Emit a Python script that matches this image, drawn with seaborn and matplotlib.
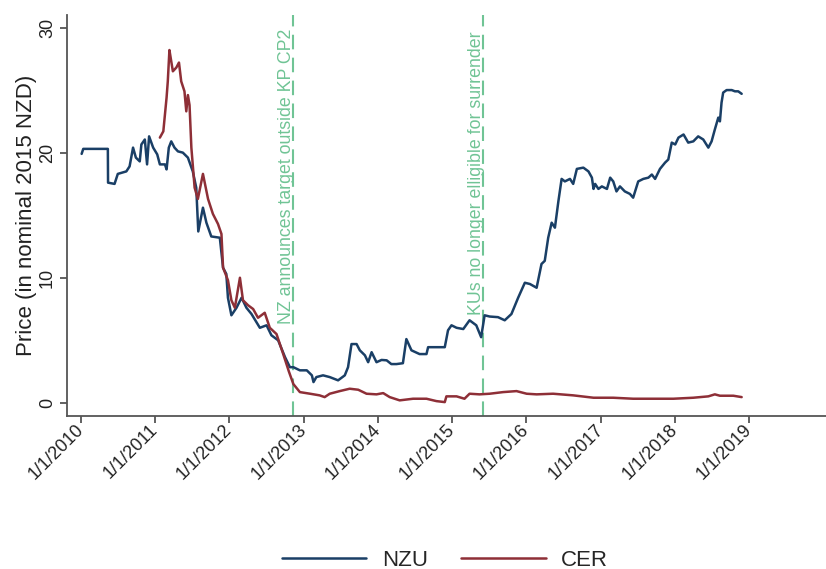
import matplotlib
matplotlib.use("Agg")
import matplotlib.pyplot as plt
import matplotlib.dates as mdates
import matplotlib.transforms as mtransforms
from matplotlib.ticker import FuncFormatter
import numpy as np
import pandas as pd
import seaborn as sns

# --- NZU spot price (nominal 2015 NZD) ---
nzu_dates = [
    "2010-01-04", "2010-01-12", "2010-05-13", "2010-05-14", "2010-06-15", "2010-07-01",
    "2010-08-12", "2010-08-28", "2010-09-14", "2010-09-28", "2010-10-17", "2010-10-25",
    "2010-11-11", "2010-11-22", "2010-12-02", "2010-12-22", "2011-01-11", "2011-01-24",
    "2011-02-18", "2011-02-26", "2011-03-09", "2011-03-21", "2011-04-06", "2011-04-23",
    "2011-05-17", "2011-06-11", "2011-07-05", "2011-07-22", "2011-08-01", "2011-08-24",
    "2011-09-10", "2011-10-04", "2011-11-15", "2011-12-01", "2011-12-17", "2011-12-25",
    "2012-01-11", "2012-02-05", "2012-03-01", "2012-03-25", "2012-04-19", "2012-05-30",
    "2012-07-02", "2012-07-26", "2012-08-28", "2012-10-01", "2012-10-25", "2012-11-11",
    "2012-12-13", "2013-01-16", "2013-02-10", "2013-02-18", "2013-03-04", "2013-04-06",
    "2013-05-09", "2013-06-19", "2013-07-22", "2013-08-07", "2013-08-24", "2013-09-18",
    "2013-10-04", "2013-10-29", "2013-11-14", "2013-12-01", "2013-12-25", "2014-01-19",
    "2014-02-13", "2014-03-08", "2014-04-02", "2014-05-04", "2014-05-21", "2014-06-15",
    "2014-07-25", "2014-08-28", "2014-09-05", "2014-10-16", "2014-11-26", "2014-12-12",
    "2014-12-29", "2015-01-23", "2015-02-25", "2015-03-28", "2015-04-30", "2015-05-24",
    "2015-06-10", "2015-07-05", "2015-08-15", "2015-09-17", "2015-10-20", "2015-11-22",
    "2015-12-25", "2016-01-19", "2016-02-21", "2016-03-16", "2016-04-01", "2016-04-18",
    "2016-05-05", "2016-05-21", "2016-06-07", "2016-06-23", "2016-07-09", "2016-08-03",
    "2016-08-19", "2016-09-06", "2016-10-08", "2016-11-02", "2016-11-19", "2016-11-27",
    "2016-12-05", "2016-12-21", "2017-01-07", "2017-02-01", "2017-02-17", "2017-03-04",
    "2017-03-20", "2017-04-06", "2017-04-30", "2017-05-25", "2017-06-10", "2017-07-05",
    "2017-07-30", "2017-08-24", "2017-09-10", "2017-09-26", "2017-10-20", "2017-11-14",
    "2017-11-30", "2017-12-17", "2018-01-03", "2018-01-19", "2018-02-13", "2018-03-08",
    "2018-04-02", "2018-04-26", "2018-05-21", "2018-06-15", "2018-07-01", "2018-07-17",
    "2018-08-03", "2018-08-11", "2018-08-19", "2018-08-27", "2018-09-13", "2018-10-08",
    "2018-10-24", "2018-11-09", "2018-11-26",
]
nzu_prices = [
    19.9, 20.3, 20.3, 17.6, 17.5, 18.3,
    18.5, 18.9, 20.4, 19.6, 19.3, 20.65,
    21.05, 19.06, 21.3, 20.4, 19.86, 19.06,
    19.06, 18.66, 20.4, 20.9, 20.4, 20.1,
    20.0, 19.6, 18.5, 17.2, 13.7, 15.6,
    14.4, 13.3, 13.2, 10.8, 10.3, 8.4,
    7.0, 7.6, 8.4, 7.6, 7.1, 6.0,
    6.2, 5.4, 5.0, 3.65, 2.85, 2.85,
    2.6, 2.6, 2.2, 1.66, 2.06, 2.2,
    2.06, 1.8, 2.2, 2.85, 4.7, 4.7,
    4.2, 3.8, 3.25, 4.05, 3.25, 3.43,
    3.4, 3.1, 3.1, 3.17, 5.1, 4.2,
    3.9, 3.9, 4.45, 4.45, 4.45, 5.8,
    6.2, 6.0, 5.9, 6.6, 6.2, 5.25,
    7.0, 6.9, 6.85, 6.6, 7.1, 8.4,
    9.6, 9.5, 9.2, 11.1, 11.35, 13.2,
    14.4, 14.0, 16.1, 17.9, 17.7, 17.9,
    17.5, 18.7, 18.8, 18.5, 18.0, 17.1,
    17.5, 17.1, 17.3, 17.1, 18.0, 17.7,
    16.9, 17.3, 16.9, 16.7, 16.4, 17.7,
    17.9, 18.0, 18.25, 17.9, 18.7, 19.2,
    19.45, 20.8, 20.65, 21.2, 21.45, 20.8,
    20.9, 21.3, 21.05, 20.4, 20.9, 21.85,
    22.8, 22.5, 24.0, 24.8, 25.0, 25.0,
    24.9, 24.9, 24.7,
]

# --- CER price (nominal 2015 NZD) ---
cer_dates = [
    "2011-01-24", "2011-02-10", "2011-02-26", "2011-03-04", "2011-03-12", "2011-03-21",
    "2011-03-29", "2011-04-15", "2011-04-28", "2011-05-09", "2011-05-25", "2011-06-03",
    "2011-06-11", "2011-06-19", "2011-06-28", "2011-07-14", "2011-07-30", "2011-08-24",
    "2011-09-18", "2011-10-12", "2011-11-06", "2011-11-23", "2011-12-01", "2011-12-25",
    "2012-01-11", "2012-01-28", "2012-02-22", "2012-03-08", "2012-04-02", "2012-04-27",
    "2012-05-21", "2012-06-23", "2012-07-18", "2012-08-20", "2012-09-22", "2012-10-20",
    "2012-11-11", "2012-12-13", "2013-02-01", "2013-03-20", "2013-04-14", "2013-05-09",
    "2013-06-27", "2013-08-15", "2013-09-26", "2013-11-06", "2013-12-25", "2014-01-27",
    "2014-02-28", "2014-04-18", "2014-06-23", "2014-08-28", "2014-10-16", "2014-11-26",
    "2014-12-04", "2015-01-23", "2015-03-03", "2015-03-28", "2015-05-16", "2015-07-05",
    "2015-09-09", "2015-11-14", "2016-01-03", "2016-02-21", "2016-05-12", "2016-08-19",
    "2016-11-27", "2017-03-04", "2017-06-10", "2017-09-17", "2017-12-25", "2018-04-02",
    "2018-06-15", "2018-07-17", "2018-08-11", "2018-10-16", "2018-11-26",
]
cer_prices = [
    21.2, 21.7, 24.4, 25.7, 28.2, 27.3,
    26.5, 26.8, 27.2, 25.7, 24.9, 23.3,
    24.6, 23.8, 20.4, 17.2, 16.3, 18.3,
    16.3, 15.1, 14.3, 13.5, 10.8, 9.8,
    8.2, 7.6, 10.0, 8.2, 7.8, 7.5,
    6.8, 7.2, 6.0, 5.5, 3.9, 2.5,
    1.5, 0.86, 0.73, 0.6, 0.46, 0.73,
    0.94, 1.13, 1.05, 0.73, 0.68, 0.78,
    0.46, 0.2, 0.33, 0.33, 0.14, 0.06,
    0.52, 0.52, 0.33, 0.73, 0.68, 0.73,
    0.86, 0.94, 0.73, 0.68, 0.73, 0.6,
    0.41, 0.41, 0.33, 0.33, 0.33, 0.41,
    0.52, 0.68, 0.57, 0.57, 0.46,
]

# --- policy events ---
event_dates = ["2012-11-09", "2015-06-01"]
event_labels = ["NZ announces target outside KP CP2",
                "KUs no longer elligible for surrender"]
event_label_y = [6.3, 7.0]

series_names = ["NZU", "CER"]
series_colors = {"NZU": "#1a3f66", "CER": "#8e2f37"}
event_color = "#70c495"
tick_years = list(range(2010, 2020))

df = pd.concat([
    pd.DataFrame({"date": pd.to_datetime(nzu_dates), "price": nzu_prices, "series": "NZU"}),
    pd.DataFrame({"date": pd.to_datetime(cer_dates), "price": cer_prices, "series": "CER"}),
], ignore_index=True)

sns.set_style("ticks")
plt.rcParams["font.family"] = ["Liberation Sans", "DejaVu Sans"]

fig = plt.figure(figsize=(8.26, 5.69), dpi=100)
ax = fig.add_axes([67 / 826, 1 - 416 / 569, 1 - 67 / 826, (416 - 15) / 569])

sns.lineplot(data=df, x="date", y="price", hue="series", hue_order=series_names,
             palette=series_colors, estimator=None, sort=False, linewidth=1.8, ax=ax)

# event markers: dashed vertical line with its caption running up beside it
text_shift = mtransforms.offset_copy(ax.transData, fig=fig, x=2, y=0, units="dots")
for d, lab, ly in zip(event_dates, event_labels, event_label_y):
    dt = pd.Timestamp(d)
    ax.axvline(dt, color=event_color, lw=1.5, dashes=(7, 4), zorder=1)
    ax.text(dt, ly, lab, rotation=90, ha="right", va="bottom", color=event_color,
            fontsize=12.8, zorder=1, transform=text_shift)

ax.set_xlim(pd.Timestamp("2009-10-24"), pd.Timestamp("2020-01-15"))
ax.set_ylim(-1.05, 31.0)
ax.set_yticks([0, 10, 20, 30])
ax.set_xticks([pd.Timestamp(f"{y}-01-01") for y in tick_years])
ax.xaxis.set_major_formatter(FuncFormatter(
    lambda v, pos: (lambda d: f"{d.month}/{d.day}/{d.year}")(mdates.num2date(v))))

spine_color = "#555555"
for side in ["top", "right"]:
    ax.spines[side].set_visible(False)
for side in ["left", "bottom"]:
    ax.spines[side].set_color(spine_color)
    ax.spines[side].set_linewidth(1.3)
ax.tick_params(axis="both", direction="out", length=5, width=1.3, color=spine_color,
               labelsize=13, labelcolor="#222222", pad=3)

for lbl in ax.get_yticklabels():
    lbl.set_rotation(90)
    lbl.set_va("center")
for lbl in ax.get_xticklabels():
    lbl.set_rotation(45)
    lbl.set_ha("right")
    lbl.set_va("center")
    lbl.set_rotation_mode("anchor")

ax.set_xlabel("")
ax.set_ylabel("Price (in nominal 2015 NZD)", fontsize=16, color="#222222", labelpad=1)

handles, labels = ax.get_legend_handles_labels()
ax.legend(handles, labels, loc="center", bbox_to_anchor=(445 / 826, 1 - 560 / 569),
          bbox_transform=fig.transFigure, ncol=2, frameon=False, fontsize=16,
          handlelength=3.8, handletextpad=0.7, columnspacing=1.5)

fig.savefig("out.png", dpi=100)
